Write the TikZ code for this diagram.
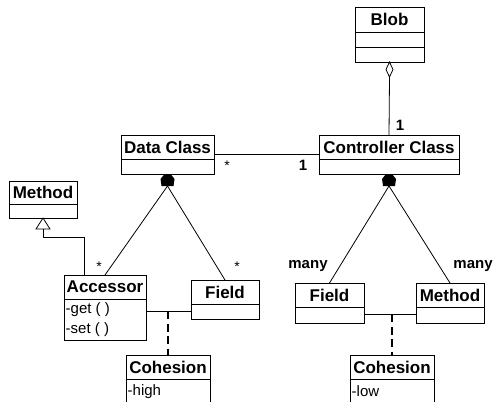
\documentclass[tikz,border=0pt]{standalone}
\usepackage{fontspec}
\setmainfont{Liberation Sans}
\usetikzlibrary{calc}
\tikzset{
  umlbox/.style={draw, line width=0.9pt, inner sep=0pt, outer sep=0pt, anchor=north west},
  ctitle/.style={font=\fontsize{17}{19}\selectfont\bfseries, inner sep=0pt},
  attr/.style={font=\fontsize{15}{17}\selectfont, inner sep=0pt, anchor=west},
  mult/.style={font=\fontsize{15}{17}\selectfont\bfseries, inner sep=0pt},
  star/.style={font=\fontsize{14}{16}\selectfont, inner sep=0pt},
  link/.style={line width=0.8pt},
  assocdash/.style={line width=2.4pt, dash pattern=on 8pt off 4.5pt},
}
\begin{document}
\begin{tikzpicture}[x=1pt,y=-1pt]
\useasboundingbox (0,0) rectangle (497,401);
\clip (0,0) rectangle (497,401);
\fill[white] (0,0) rectangle (497,401);

% Blob
\node[umlbox, minimum width=69pt, minimum height=55pt] (blob) at (355,7) {};
\node[ctitle] (blobT) at ($(blob.north)+(0,12.5)$) {Blob};
\draw[line width=0.9pt] ($(blob.north west)+(0,25)$) -- ($(blob.north east)+(0,25)$);
\draw[line width=0.9pt] ($(blob.north west)+(0,40)$) -- ($(blob.north east)+(0,40)$);

% Data Class
\node[umlbox, minimum width=93pt, minimum height=39pt] (data) at (121,135) {};
\node[ctitle] (dataT) at ($(data.north)+(0,12)$) {Data Class};
\draw[line width=0.9pt] ($(data.north west)+(0,24)$) -- ($(data.north east)+(0,24)$);

% Controller Class
\node[umlbox, minimum width=140pt, minimum height=39pt] (ctrl) at (319,135) {};
\node[ctitle] (ctrlT) at ($(ctrl.north)+(0,12)$) {Controller Class};
\draw[line width=0.9pt] ($(ctrl.north west)+(0,24)$) -- ($(ctrl.north east)+(0,24)$);

% Method (left)
\node[umlbox, minimum width=68pt, minimum height=37pt] (methL) at (9,181) {};
\node[ctitle] (methLT) at ($(methL.north)+(0,11.5)$) {Method};
\draw[line width=0.9pt] ($(methL.north west)+(0,23)$) -- ($(methL.north east)+(0,23)$);

% Accessor
\node[umlbox, minimum width=82pt, minimum height=65pt] (acc) at (64,275) {};
\node[ctitle] (accT) at ($(acc.north)+(0,12)$) {Accessor};
\draw[line width=0.9pt] ($(acc.north west)+(0,24)$) -- ($(acc.north east)+(0,24)$);
\node[attr] (accGet) at ($(acc.north west)+(1.5,35)$) {-get ( )};
\node[attr] (accSet) at ($(acc.north west)+(1.5,55)$) {-set ( )};

% Field (left)
\node[umlbox, minimum width=68pt, minimum height=39pt] (fieldL) at (191,280) {};
\node[ctitle] (fieldLT) at ($(fieldL.north)+(0,12)$) {Field};
\draw[line width=0.9pt] ($(fieldL.north west)+(0,24)$) -- ($(fieldL.north east)+(0,24)$);

% Cohesion (left)
\node[umlbox, minimum width=84pt, minimum height=70pt] (cohL) at (126,355) {};
\node[ctitle] (cohLT) at ($(cohL.north)+(0,12)$) {Cohesion};
\draw[line width=0.9pt] ($(cohL.north west)+(0,24)$) -- ($(cohL.north east)+(0,24)$);
\node[attr] (cohLA) at ($(cohL.north west)+(1.5,36.5)$) {-high};

% Field (right)
\node[umlbox, minimum width=69pt, minimum height=40pt] (fieldR) at (295,283) {};
\node[ctitle] (fieldRT) at ($(fieldR.north)+(0,12)$) {Field};
\draw[line width=0.9pt] ($(fieldR.north west)+(0,24)$) -- ($(fieldR.north east)+(0,24)$);

% Method (right)
\node[umlbox, minimum width=68pt, minimum height=40pt] (methR) at (416,283) {};
\node[ctitle] (methRT) at ($(methR.north)+(0,12)$) {Method};
\draw[line width=0.9pt] ($(methR.north west)+(0,24)$) -- ($(methR.north east)+(0,24)$);

% Cohesion (right)
\node[umlbox, minimum width=84pt, minimum height=70pt] (cohR) at (350,355) {};
\node[ctitle] (cohRT) at ($(cohR.north)+(0,12)$) {Cohesion};
\draw[line width=0.9pt] ($(cohR.north west)+(0,24)$) -- ($(cohR.north east)+(0,24)$);
\node[attr] (cohRA) at ($(cohR.north west)+(1.5,36.5)$) {-low};

% Blob aggregation (hollow diamond)
\coordinate (blobD) at ($(blob.south)+(0,15)$);
\draw[link] (blob.south) -- ++(-3.5,7.5) -- (blobD) -- ++(3.5,-7.5) -- cycle;
\draw[link] (blobD) -- (ctrl.north);

% Data -- Controller
\draw[link] (data.east) -- (ctrl.west);

% Data composition
\coordinate (dataD) at ($(data.south)+(0,12)$);
\fill ($(data.south)+(-3,0)$) -- ($(data.south)+(3,0)$) -- ($(data.south)+(7,5)$) -- ($(data.south)+(6,12)$) -- ($(data.south)+(-6,12)$) -- ($(data.south)+(-7,5)$) -- cycle;
\draw[link] (dataD) -- (acc.north);
\draw[link] (dataD) -- (fieldL.north);

% Controller composition
\coordinate (ctrlD) at ($(ctrl.south)+(0,12)$);
\fill ($(ctrl.south)+(-3,0)$) -- ($(ctrl.south)+(3,0)$) -- ($(ctrl.south)+(7,5)$) -- ($(ctrl.south)+(6,12)$) -- ($(ctrl.south)+(-6,12)$) -- ($(ctrl.south)+(-7,5)$) -- cycle;
\draw[link] (ctrlD) -- (fieldR.north);
\draw[link] (ctrlD) -- (methR.north);

% Generalization Accessor -> Method
\coordinate (genB) at ($(methL.south)+(0,11)$);
\draw[link] (methL.south) -- ++(-7,11) -- ++(14,0) -- cycle;
\draw[link] (genB) |- ($(acc.north west)+(20,-38)$) -- ($(acc.north west)+(20,0)$);

% Accessor -- Field association with class
\coordinate (assocL) at ($(acc.north east)+(0,36)$);
\draw[link] (assocL) -- ($(fieldL.north west)+(0,31)$);
\draw[assocdash] (cohL.north |- assocL) -- (cohL.north);

% Field -- Method association with class
\coordinate (assocR) at ($(fieldR.north east)+(0,31)$);
\draw[link] (assocR) -- ($(methR.north west)+(0,31)$);
\draw[assocdash] (cohR.north |- assocR) -- (cohR.north);

% multiplicities
\node[mult] (m1) at (400,125) {1};
\node[star] (s1) at (227,166) {*};
\node[mult] (m2) at (303,165) {1};
\node[star] (s2) at (99,267) {*};
\node[star] (s3) at (237,267) {*};
\node[mult] (m3) at (308,266) {many};
\node[mult] (m4) at (473,266) {many};
\end{tikzpicture}
\end{document}
